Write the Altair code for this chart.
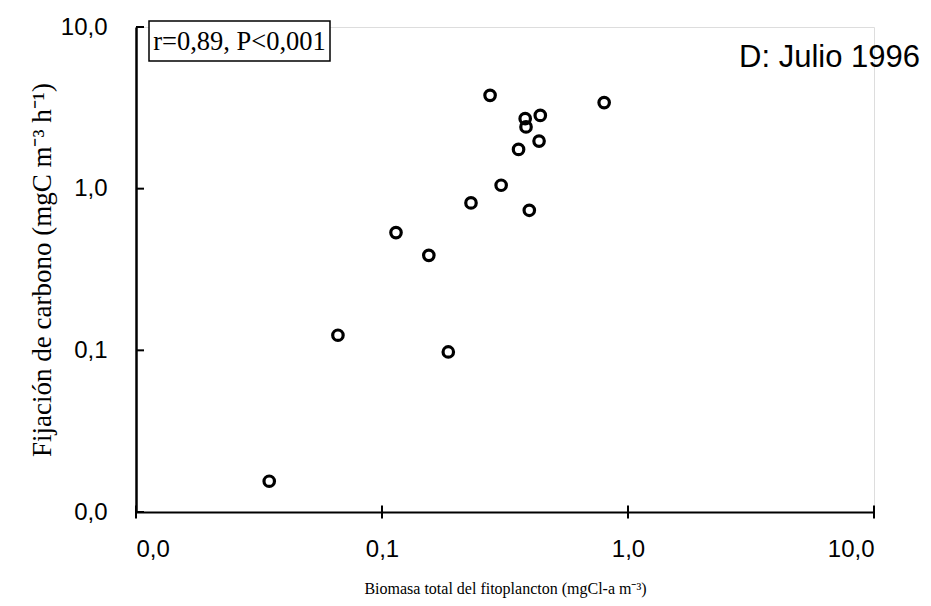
import altair as alt
import pandas as pd

biomasa = [0.275, 0.80, 0.382, 0.440, 0.385, 0.435, 0.359, 0.305, 0.230, 0.397,
           0.114, 0.155, 0.0662, 0.186, 0.0348]
fijacion = [3.78, 3.41, 2.71, 2.84, 2.41, 1.97, 1.75, 1.05, 0.816, 0.735,
            0.535, 0.387, 0.124, 0.0977, 0.0155]
tick_values = [0.01, 0.1, 1, 10]

df = pd.DataFrame({"x": biomasa, "y": fijacion})
ticks_df = pd.DataFrame({"x": tick_values, "y": tick_values})

label_expr = "replace(format(datum.value, '.1f'), '.', ',')"
xscale = alt.Scale(type="log", domain=[0.01, 10], nice=False)
yscale = alt.Scale(type="log", domain=[0.01, 10], nice=False)

x_title = "Biomasa total del fitoplancton (mgCl-a m\u207b\u00b3)"
y_title = "Fijación de carbono (mgC m\u207b\u00b3 h\u207b\u00b9)"

x_axis = alt.Axis(
    orient="bottom", values=tick_values, labelExpr=label_expr, ticks=False,
    domainColor="black", domainWidth=2, labelFont="Liberation Sans", labelFontSize=24,
    labelColor="black", labelPadding=25, grid=False, title=x_title,
    titleFont="Liberation Serif", titleFontSize=16, titleFontWeight="normal",
    titleColor="black", titlePadding=19)
y_axis = alt.Axis(
    orient="left", values=tick_values, labelExpr=label_expr, ticks=False,
    domainColor="black", domainWidth=2.5, labelFont="Liberation Sans", labelFontSize=24,
    labelColor="black", labelPadding=29, grid=False, title=y_title,
    titleFont="Liberation Serif", titleFontSize=27, titleFontWeight="normal",
    titleColor="black", titlePadding=4)

points = alt.Chart(df).mark_point(
    shape="circle", filled=False, color="black", strokeWidth=3.2, size=110, opacity=1
).encode(
    x=alt.X("x:Q", scale=xscale, axis=x_axis),
    y=alt.Y("y:Q", scale=yscale, axis=y_axis),
)

x_ticks = alt.Chart(ticks_df).mark_tick(
    orient="vertical", color="black", thickness=2, size=13, opacity=1
).encode(
    x=alt.X("x:Q", scale=xscale, axis=x_axis),
    y=alt.value(485),
)

y_ticks = alt.Chart(ticks_df).mark_tick(
    orient="horizontal", color="black", thickness=2, size=8, opacity=1
).encode(
    y=alt.Y("y:Q", scale=yscale, axis=y_axis),
    x=alt.value(4),
)

box = alt.Chart(df.head(1)).mark_rect(
    fill="white", stroke="black", strokeWidth=1.5
).encode(x=alt.value(13), x2=alt.value(194), y=alt.value(-6), y2=alt.value(34))

box_text = alt.Chart(df.head(1)).mark_text(
    text="r=0,89, P<0,001", font="Liberation Serif", fontSize=26.5, color="black",
    align="center", baseline="middle"
).encode(x=alt.value(103.5), y=alt.value(15))

title_text = alt.Chart(df.head(1)).mark_text(
    text="D: Julio 1996", font="Liberation Sans", fontSize=31, color="black",
    align="right", baseline="middle"
).encode(x=alt.value(784), y=alt.value(31))

chart = alt.layer(points, x_ticks, y_ticks, box, box_text, title_text).properties(
    width=738, height=485,
    autosize=alt.AutoSizeParams(type="none"),
    padding={"left": 136, "top": 27, "right": 57, "bottom": 94},
).configure_view(stroke=None).configure(background="white")

chart.save("out.html", embed_options={"renderer": "svg", "actions": False})
